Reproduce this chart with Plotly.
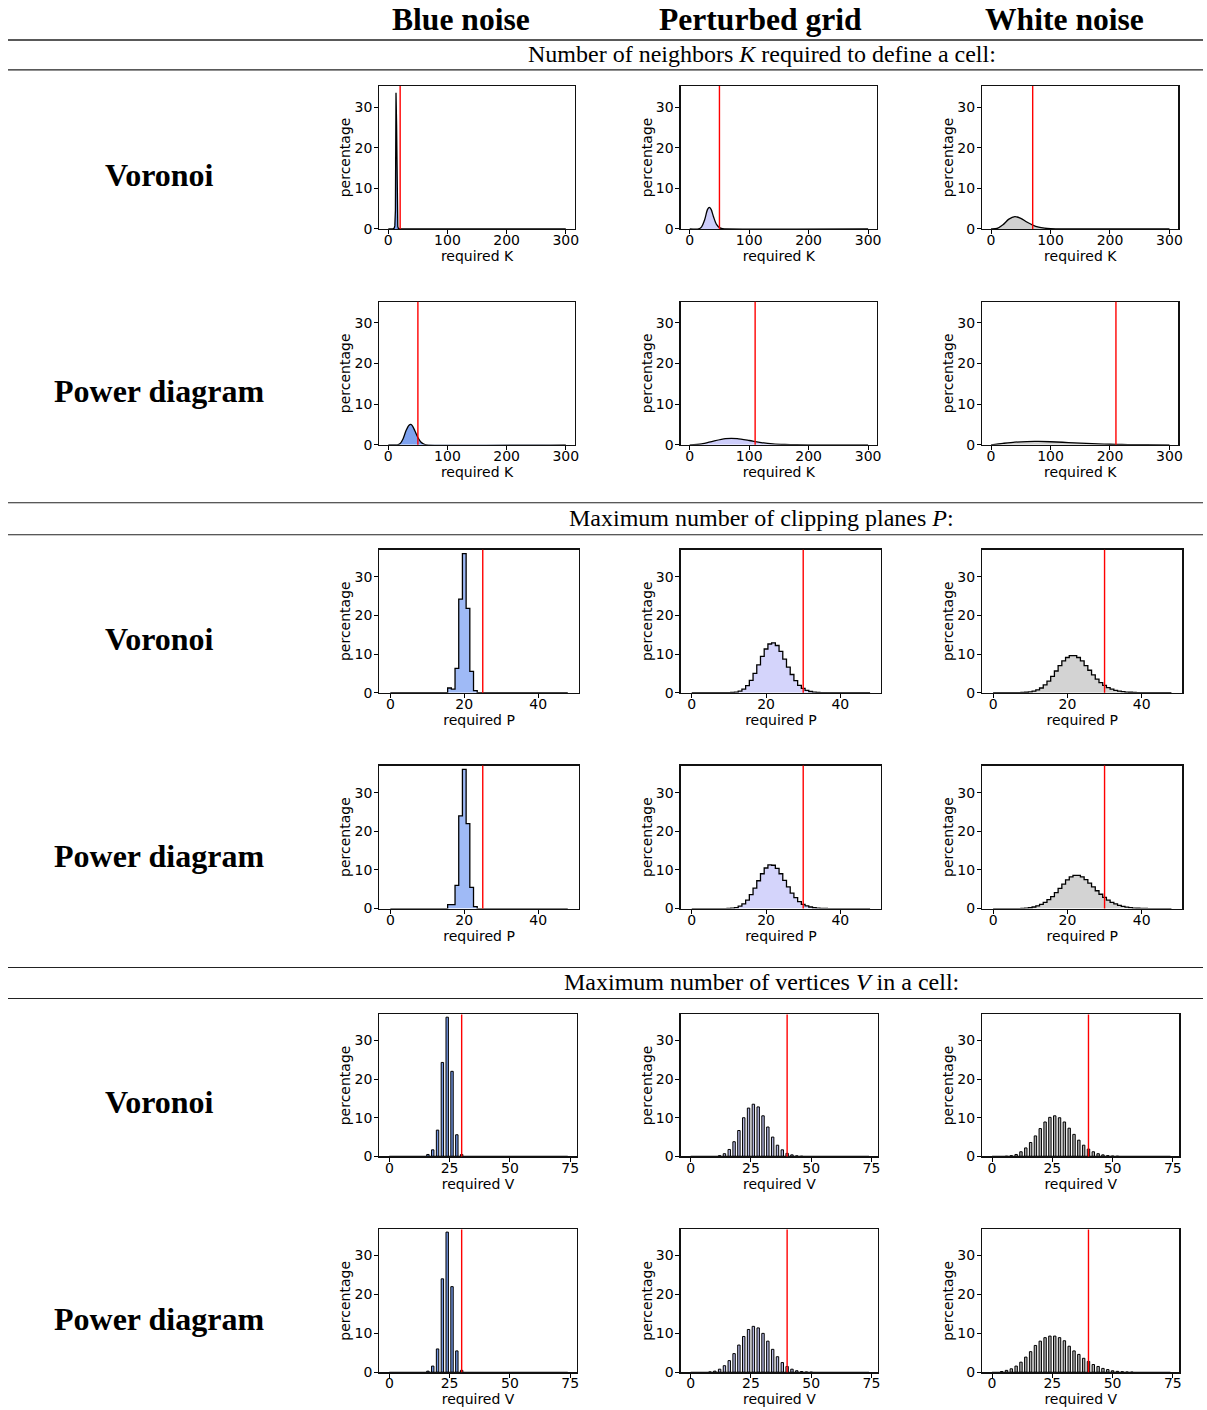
import plotly.graph_objects as go

# ---------------- data ----------------
COLUMNS = ["Blue noise", "Perturbed grid", "White noise"]
ROW_NAMES = ["Voronoi", "Power diagram"]
SECTIONS = [
    "Number of neighbors <i>K</i> required to define a cell:",
    "Maximum number of clipping planes <i>P</i>:",
    "Maximum number of vertices <i>V</i> in a cell:",
]

# K: smooth density curves (x = required K, y = percentage)
K_VOR_BLUE_X = [0, 8, 10, 11, 12, 13, 14, 15, 16, 17, 18, 20, 300]
K_VOR_BLUE_Y = [0, 0, 0.2, 0.8, 4.5, 33.5, 25.5, 4.0, 0.6, 0.1, 0.02, 0, 0]
K_VOR_GRID_X = [0, 15, 20, 25, 30, 33, 36, 40, 45, 50, 55, 60, 300]
K_VOR_GRID_Y = [0, 0, 0.5, 2.2, 4.8, 5.3, 4.8, 3.0, 1.1, 0.3, 0.05, 0, 0]
K_VOR_WHITE_X = [0, 10, 20, 30, 40, 50, 60, 70, 80, 90, 100, 120, 300]
K_VOR_WHITE_Y = [0, 0.1, 1.0, 2.4, 3.0, 2.6, 1.7, 0.95, 0.45, 0.2, 0.08, 0, 0]
K_POW_BLUE_X = [0, 15, 20, 25, 30, 35, 38, 41, 45, 50, 55, 60, 65, 300]
K_POW_BLUE_Y = [0, 0, 0.3, 1.5, 3.5, 4.8, 5.0, 4.6, 3.4, 1.8, 0.7, 0.2, 0.0, 0]
K_POW_GRID_X = [0, 20, 40, 60, 70, 80, 100, 120, 140, 160, 180, 200, 300]
K_POW_GRID_Y = [0, 0.2, 0.9, 1.5, 1.6, 1.5, 1.05, 0.55, 0.22, 0.08, 0.02, 0, 0]
K_POW_WHITE_X = [0, 20, 40, 60, 80, 100, 120, 140, 160, 180, 200, 220, 240, 260, 300]
K_POW_WHITE_Y = [0, 0.35, 0.65, 0.8, 0.82, 0.75, 0.62, 0.47, 0.33, 0.22, 0.13, 0.07, 0.03, 0.01, 0]

# P: step histograms over integer bins 0..48 ; (first non-zero bin, values)
P_BINS = list(range(0, 49))
P_VOR_BLUE = (16, [1.2, 0.9, 6.3, 24.2, 36.0, 21.8, 5.5, 0.5])
P_VOR_GRID = (11, [0.05, 0.15, 0.4, 0.9, 1.8, 3.2, 5.0, 7.2, 9.4, 11.3, 12.6, 12.9, 12.2,
                   10.7, 8.7, 6.6, 4.7, 3.1, 1.9, 1.1, 0.6, 0.3, 0.15, 0.07, 0.03, 0.01])
P_VOR_WHITE = (8, [0.05, 0.1, 0.2, 0.4, 0.7, 1.2, 2.0, 3.0, 4.2, 5.6, 7.0, 8.2, 9.1, 9.6, 9.6,
                   9.1, 8.2, 7.0, 5.8, 4.6, 3.5, 2.6, 1.9, 1.3, 0.9, 0.6, 0.4, 0.25, 0.15,
                   0.1, 0.05, 0.03])
P_POW_BLUE = (16, [1.0, 1.0, 6.0, 24.0, 36.0, 22.0, 5.5, 0.5])
P_POW_GRID = (10, [0.05, 0.1, 0.25, 0.6, 1.2, 2.2, 3.6, 5.3, 7.2, 9.0, 10.5, 11.3, 11.2, 10.4,
                   9.0, 7.3, 5.6, 4.0, 2.8, 1.8, 1.1, 0.7, 0.4, 0.2, 0.12, 0.06, 0.03])
P_POW_WHITE = (8, [0.05, 0.1, 0.2, 0.4, 0.7, 1.1, 1.6, 2.3, 3.1, 4.1, 5.2, 6.3, 7.4, 8.2, 8.6,
                   8.6, 8.2, 7.5, 6.6, 5.6, 4.6, 3.7, 2.9, 2.2, 1.6, 1.2, 0.8, 0.55, 0.35,
                   0.22, 0.13, 0.08, 0.04, 0.02])

# V: bar histograms, non-zero only at even V ; (first non-zero V, values every 2)
V_RANGE = [0, 74]
V_VOR_BLUE = (16, [0.5, 1.7, 6.8, 24.3, 36.0, 22.0, 5.6, 0.5])
V_VOR_GRID = (12, [0.2, 0.7, 1.8, 3.8, 6.7, 10.0, 12.5, 13.5, 12.8, 10.5, 7.6, 5.0, 2.9,
                   1.7, 0.8, 0.4, 0.15, 0.05])
V_VOR_WHITE = (6, [0.05, 0.2, 0.5, 1.2, 2.2, 3.6, 5.3, 7.2, 8.9, 10.1, 10.5, 10.0, 8.9, 7.3,
                   5.7, 4.2, 2.9, 1.9, 1.2, 0.7, 0.4, 0.2, 0.1, 0.05])
V_POW_BLUE = (16, [0.3, 1.6, 6.0, 24.0, 36.0, 22.0, 5.5, 0.5])
V_POW_GRID = (8, [0.1, 0.3, 0.8, 1.7, 3.0, 4.8, 7.0, 9.2, 11.0, 11.8, 11.4, 10.0, 8.0, 5.9,
                  4.0, 2.5, 1.5, 0.8, 0.4, 0.2, 0.08, 0.03])
V_POW_WHITE = (4, [0.2, 0.5, 0.9, 1.6, 2.6, 3.9, 5.3, 6.9, 8.0, 8.9, 9.3, 9.3, 8.9, 8.1, 6.7,
                   5.5, 4.6, 3.6, 2.8, 2.0, 1.5, 1.0, 0.7, 0.4, 0.25, 0.15, 0.08, 0.04])

# red threshold lines
K_LIMITS = [[20, 50, 70], [50, 110, 210]]
P_LIMITS = [[25, 30, 30], [25, 30, 30]]
V_LIMITS = [[30, 40, 40], [30, 40, 40]]

K_TICKS = [0, 100, 200, 300]
P_TICKS = [0, 20, 40]
V_TICKS = [0, 25, 50, 75]
Y_TICKS = [0, 10, 20, 30]

# ---------------- layout helpers ----------------
W, H = 1207, 1410
KX, KY = 1.0045, 1.0052   # small compensation so the photographed page lines up


def fx(px):
    return min(1.0, px * KX / W)


def fy(py):
    return max(0.0, 1 - py * KY / H)


def pad(spec, n, step=1):
    start, vals = spec
    out = [0.0] * n
    for i, v in enumerate(vals):
        out[start + i * step] = v
    return out


K_DATA = [[(K_VOR_BLUE_X, K_VOR_BLUE_Y), (K_VOR_GRID_X, K_VOR_GRID_Y), (K_VOR_WHITE_X, K_VOR_WHITE_Y)],
          [(K_POW_BLUE_X, K_POW_BLUE_Y), (K_POW_GRID_X, K_POW_GRID_Y), (K_POW_WHITE_X, K_POW_WHITE_Y)]]
P_DATA = [[P_VOR_BLUE, P_VOR_GRID, P_VOR_WHITE], [P_POW_BLUE, P_POW_GRID, P_POW_WHITE]]
V_DATA = [[V_VOR_BLUE, V_VOR_GRID, V_VOR_WHITE], [V_POW_BLUE, V_POW_GRID, V_POW_WHITE]]

ROW_BOXES = [(86, 229), (302, 445), (550, 693), (766, 909), (1015, 1157), (1230, 1373)]
COL_BOXES = {"K": [(379, 574), (680, 876), (981, 1177)],
             "P": [(379, 578), (680, 880), (981, 1181)],
             "V": [(379, 576), (680, 877), (981, 1178)]}
X_RANGES = {"K": [-15, 315], "P": [-2.95, 50.95], "V": [-4.1, 77.7]}
Y_RANGES = {"K": [0, 35.2], "P": [0, 37.0], "V": [0, 36.7]}
X_TICKS = {"K": K_TICKS, "P": P_TICKS, "V": V_TICKS}
FILLS = {"K": ["#7ea2ef", "#cdcdfa", "#d0d0d0"],
         "P": ["#9fbaf6", "#d4d4fb", "#d3d3d3"],
         "V": ["#7093e0", "#b3b6e0", "#b0b0b0"]}

TICK_FONT = dict(family="DejaVu Sans", size=14, color="black")
SERIF = "Liberation Serif"

fig = go.Figure()
shapes = []
annotations = []
layout_axes = {}

metrics = ["K", "K", "P", "P", "V", "V"]
for r in range(6):
    m = metrics[r]
    d = r % 2
    top, bot = ROW_BOXES[r]
    for c in range(3):
        n = r * 3 + c + 1
        xs = "x" if n == 1 else f"x{n}"
        ys = "y" if n == 1 else f"y{n}"
        l, rt = COL_BOXES[m][c]
        fill = FILLS[m][c]
        if m == "K":
            kx, ky = K_DATA[d][c]
            shape = "linear" if (d == 0 and c == 0) else "spline"
            fig.add_trace(go.Scatter(x=kx, y=ky, mode="lines", xaxis=xs, yaxis=ys,
                                     line=dict(color="black", width=1.3, shape=shape, smoothing=0.8),
                                     fill="tozeroy", fillcolor=fill, showlegend=False,
                                     hoverinfo="skip"))
            limit = K_LIMITS[d][c]
        elif m == "P":
            py = pad(P_DATA[d][c], len(P_BINS))
            fig.add_trace(go.Scatter(x=P_BINS, y=py, mode="lines", xaxis=xs, yaxis=ys,
                                     line=dict(color="black", width=1.3, shape="hvh"),
                                     fill="tozeroy", fillcolor=fill, showlegend=False,
                                     hoverinfo="skip"))
            limit = P_LIMITS[d][c]
        else:
            start, vals = V_DATA[d][c]
            vx = [start + 2 * i for i in range(len(vals))]
            fig.add_trace(go.Scatter(x=V_RANGE, y=[0, 0], mode="lines", xaxis=xs, yaxis=ys,
                                     line=dict(color="black", width=1.3), showlegend=False,
                                     hoverinfo="skip"))
            fig.add_trace(go.Bar(x=vx, y=vals, width=1.0, xaxis=xs, yaxis=ys,
                                 marker=dict(color=fill, line=dict(color="black", width=1)),
                                 showlegend=False, hoverinfo="skip"))
            limit = V_LIMITS[d][c]
        shapes.append(dict(type="line", xref=xs, yref=f"{ys} domain", x0=limit, x1=limit,
                           y0=0, y1=1, line=dict(color="red", width=1.4), layer="above"))
        xname = "xaxis" if n == 1 else f"xaxis{n}"
        yname = "yaxis" if n == 1 else f"yaxis{n}"
        layout_axes[xname] = dict(
            domain=[fx(l), fx(rt)], anchor=ys, range=X_RANGES[m], tickvals=X_TICKS[m],
            ticks="outside", ticklen=4, tickwidth=1, tickcolor="black", ticklabelstandoff=-6,
            showline=True, mirror=True, linecolor="#111", linewidth=1.3,
            showgrid=False, zeroline=False, tickfont=TICK_FONT,
            title=dict(text=f"required {m}", font=TICK_FONT, standoff=0))
        layout_axes[yname] = dict(
            domain=[fy(bot), fy(top)], anchor=xs, range=Y_RANGES[m], tickvals=Y_TICKS,
            ticks="outside", ticklen=4, tickwidth=1, tickcolor="black", ticklabelstandoff=-1,
            showline=True, mirror=True, linecolor="#111", linewidth=1.3,
            showgrid=False, zeroline=False, tickfont=TICK_FONT,
            title=dict(text="percentage", font=TICK_FONT, standoff=0))

# column titles
for name, cx in zip(COLUMNS, [460, 760, 1063]):
    annotations.append(dict(text=f"<b>{name}</b>", x=fx(cx), y=fy(20), xref="paper", yref="paper",
                            showarrow=False, xanchor="center", yanchor="middle",
                            font=dict(family=SERIF, size=31.6, color="black")))
# row labels
for r, cy in enumerate([175, 391, 639, 856, 1103, 1320]):
    annotations.append(dict(text=f"<b>{ROW_NAMES[r % 2]}</b>", x=fx(159), y=fy(cy), xref="paper",
                            yref="paper", showarrow=False, xanchor="center", yanchor="middle",
                            font=dict(family=SERIF, size=32, color="black")))
# section headers and rules
for txt, cy, (y1, y2) in zip(SECTIONS, [54, 518, 982], [(40, 70), (503, 535), (968, 999)]):
    annotations.append(dict(text=txt, x=fx(761), y=fy(cy), xref="paper", yref="paper",
                            showarrow=False, xanchor="center", yanchor="middle",
                            font=dict(family=SERIF, size=24, color="black")))
    for yy, wdt in ((y1, 1.6 if y1 == 40 else 1.2), (y2, 1.2)):
        shapes.append(dict(type="line", xref="paper", yref="paper", x0=fx(8), x1=1,
                           y0=fy(yy), y1=fy(yy), line=dict(color="#222", width=wdt)))

fig.update_layout(width=W, height=H, margin=dict(l=0, r=0, t=0, b=0),
                  paper_bgcolor="white", plot_bgcolor="white", barmode="overlay",
                  shapes=shapes, annotations=annotations, **layout_axes)

fig.write_html(
    "out.html",
    config={"displayModeBar": False, "staticPlot": True},
    post_script=("document.documentElement.style.margin='0';"
                 "document.body.style.margin='0';"
                 "document.body.style.padding='0';"
                 "var gd=document.getElementById('{plot_id}');"
                 "gd.style.position='fixed';gd.style.left='0px';gd.style.top='0px';"),
)
